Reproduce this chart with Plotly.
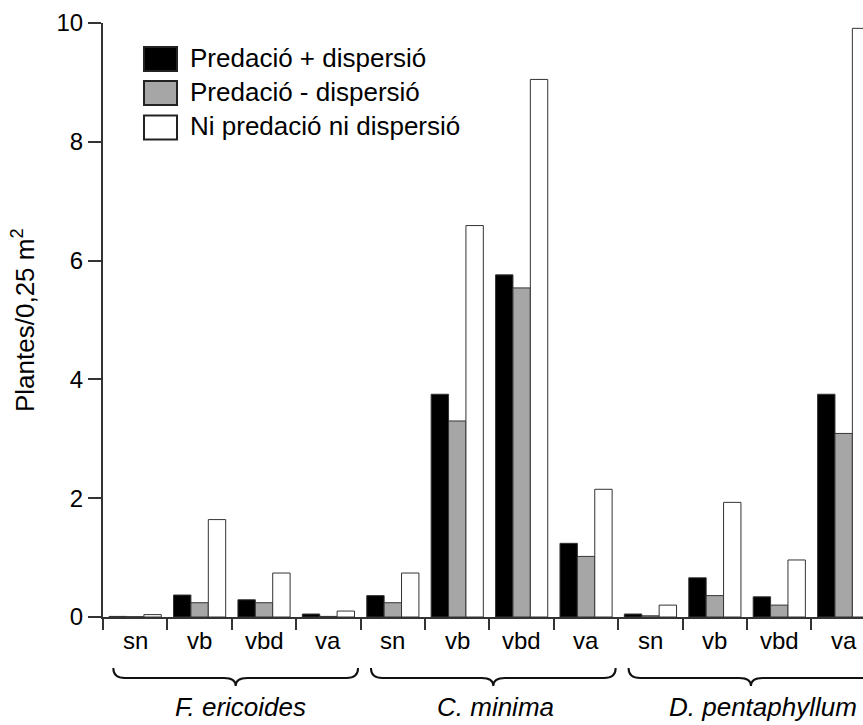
import plotly.graph_objects as go

# ---- data ----
species = ["F. ericoides", "C. minima", "D. pentaphyllum"]
treatments = ["sn", "vb", "vbd", "va"]
series_names = ["Predació + dispersió", "Predació - dispersió", "Ni predació ni dispersió"]

pred_disp = [0.01, 0.37, 0.29, 0.05,   0.36, 3.75, 5.76, 1.24,   0.05, 0.66, 0.34, 3.75]
pred_nodisp = [0.005, 0.24, 0.24, 0.01,  0.24, 3.30, 5.54, 1.02,  0.02, 0.36, 0.20, 3.09]
none = [0.04, 1.64, 0.74, 0.10,   0.74, 6.59, 9.05, 2.15,   0.20, 1.93, 0.96, 9.91]

y_ticks = [0, 2, 4, 6, 8, 10]

# ---- styles ----
FONT = "Liberation Sans, Arial, sans-serif"
colors = ["#000000", "#a6a6a6", "#ffffff"]
LINE = "#333333"

n = len(species) * len(treatments)
xpos = list(range(n))

fig = go.Figure()
for name, vals, col in zip(series_names, [pred_disp, pred_nodisp, none], colors):
    fig.add_trace(go.Bar(
        x=xpos, y=vals, name=name,
        marker=dict(color=col, line=dict(color=LINE, width=1)),
        showlegend=False,
    ))

# plot area geometry (pixels) used for overlay positions
L, R, T, B = 103, 0, 23, 108
W, H = 863, 725
pw, ph = W - L - R, H - T - B

def px_x(p):
    return (p - L) / pw

def px_y(p):
    return (H - B - p) / ph

shapes = []
annotations = []

# category labels under each slot
for i in range(n):
    annotations.append(dict(
        x=i, y=px_y(640), xref="x", yref="paper",
        text=treatments[i % len(treatments)], showarrow=False,
        font=dict(family=FONT, size=24, color="#000"),
        xanchor="center", yanchor="middle"))

# braces and species labels
label_offsets = [0.07, 0.04, 0.19]
for k, sp in enumerate(species):
    s = 4 * k - 0.5 + 0.16
    e = 4 * k + 3.5 - 0.04
    m = (s + e) / 2
    r = 0.18
    top, mid, tip = px_y(668), px_y(678), px_y(686)
    path = (f"M {s},{top} Q {s},{mid} {s + r},{mid} "
            f"L {m - r},{mid} Q {m},{mid} {m},{tip} "
            f"Q {m},{mid} {m + r},{mid} "
            f"L {e - r},{mid} Q {e},{mid} {e},{top}")
    shapes.append(dict(type="path", path=path, xref="x", yref="paper",
                       line=dict(color="#111", width=2)))
    annotations.append(dict(
        x=m + label_offsets[k], y=px_y(707), xref="x", yref="paper",
        text=f"<i>{sp}</i>", showarrow=False,
        font=dict(family=FONT, size=26, color="#000"),
        xanchor="center", yanchor="middle"))

# manual legend
leg_rows = [59, 93, 127.5]
for name, col, cy in zip(series_names, colors, leg_rows):
    shapes.append(dict(type="rect", xref="paper", yref="paper",
                       x0=px_x(144), x1=px_x(177), y0=px_y(cy - 12), y1=px_y(cy + 12),
                       fillcolor=col, line=dict(color="#222", width=2)))
    annotations.append(dict(
        x=px_x(188), y=px_y(cy - 1), xref="paper", yref="paper",
        text=name, showarrow=False,
        font=dict(family=FONT, size=26, color="#000"),
        xanchor="left", yanchor="middle"))

# y-axis title
annotations.append(dict(
    x=px_x(23), y=px_y(320), xref="paper", yref="paper",
    text="Plantes/0,25 m<sup>2</sup>", showarrow=False, textangle=-90,
    font=dict(family=FONT, size=26, color="#000"),
    xanchor="center", yanchor="middle"))

fig.update_layout(
    width=W, height=H,
    margin=dict(l=L, r=R, t=T, b=B, pad=0),
    paper_bgcolor="white", plot_bgcolor="white",
    barmode="group", bargap=0.19, bargroupgap=0,
    font=dict(family=FONT, color="#000"),
    shapes=shapes, annotations=annotations,
    xaxis=dict(
        range=[-0.5, 11.3], showgrid=False, zeroline=False,
        showline=True, linecolor=LINE, linewidth=2,
        tickmode="array", tickvals=[i - 0.5 for i in range(n + 1)],
        ticks="outside", ticklen=11, tickwidth=2, tickcolor=LINE,
        showticklabels=False,
    ),
    yaxis=dict(
        range=[0, 10], showgrid=False, zeroline=False,
        showline=True, linecolor=LINE, linewidth=2,
        tickmode="array", tickvals=y_ticks,
        ticks="outside", ticklen=13, tickwidth=2, tickcolor=LINE,
        tickfont=dict(family=FONT, size=24, color="#000"),
    ),
)

fig.write_html("out.html")
